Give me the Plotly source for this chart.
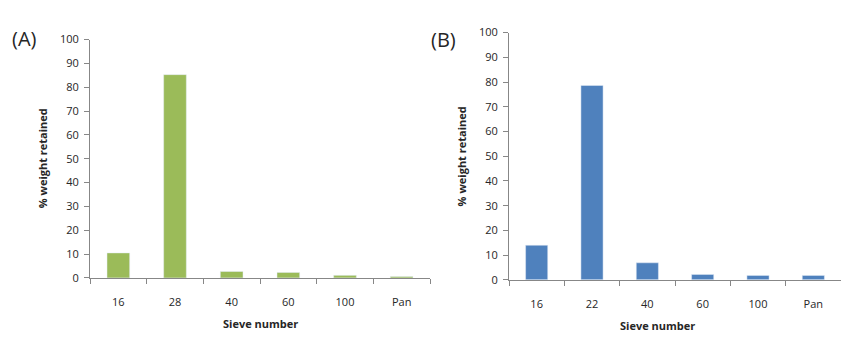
import plotly.graph_objects as go

sieves_a = ["16", "28", "40", "60", "100", "Pan"]
retained_a = [10.5, 85.3, 2.7, 2.3, 1.1, 0.6]
sieves_b = ["16", "22", "40", "60", "100", "Pan"]
retained_b = [14.0, 78.6, 6.9, 2.2, 1.8, 1.8]
y_ticks = list(range(0, 101, 10))

W, H = 853, 351
font = "Open Sans"
axis_col = "#878787"
txt_col = "#262626"

fig = go.Figure()
fig.add_trace(go.Bar(x=sieves_a, y=retained_a, marker_color="#9BBB59", width=0.4,
                     xaxis="x", yaxis="y", showlegend=False))
fig.add_trace(go.Bar(x=sieves_b, y=retained_b, marker_color="#4F81BD", width=0.4,
                     xaxis="x2", yaxis="y2", showlegend=False))

def xa(domain, anchor):
    return dict(domain=domain, anchor=anchor, type="category", range=[-0.5, 5.5],
                showline=True, linecolor=axis_col, linewidth=1, ticks="outside",
                tickson="boundaries", ticklen=5, tickcolor=axis_col, showgrid=False,
                tickfont=dict(family=font, size=11, color=txt_col), ticklabelstandoff=14,
                zeroline=False, fixedrange=True)

def ya(domain, anchor):
    return dict(domain=domain, anchor=anchor, range=[0, 100], tickvals=y_ticks,
                showline=True, linecolor=axis_col, linewidth=1, ticks="outside",
                ticklen=5, tickcolor=axis_col, showgrid=False, zeroline=False,
                tickfont=dict(family=font, size=11, color=txt_col), ticklabelstandoff=3)

fig.update_layout(
    width=W, height=H, margin=dict(l=0, r=0, t=0, b=0),
    paper_bgcolor="white", plot_bgcolor="white",
    xaxis=xa([90 / W, 430 / W], "y"),
    yaxis=ya([1 - 282 / H, 1 - 33 / H], "x"),
    xaxis2=xa([509 / W, 841 / W], "y2"),
    yaxis2=ya([1 - 284 / H, 1 - 25.7 / H], "x2"),
    bargap=0.6,
)

def ann(text, x, y, size, bold=False, angle=0):
    fig.add_annotation(text=f"<b>{text}</b>" if bold else text, x=x / W, y=1 - y / H,
                       xref="paper", yref="paper", showarrow=False, textangle=angle,
                       font=dict(family=font, size=size, color=txt_col),
                       xanchor="center", yanchor="middle")

ann("(A)", 24, 32, 20)
ann("(B)", 443, 33, 20)
ann("% weight retained", 42, 157, 11, bold=True, angle=-90)
ann("% weight retained", 461, 155, 11, bold=True, angle=-90)
ann("Sieve number", 260, 330, 11, bold=True)
ann("Sieve number", 657, 332, 11, bold=True)

fig.write_html("out.html")
